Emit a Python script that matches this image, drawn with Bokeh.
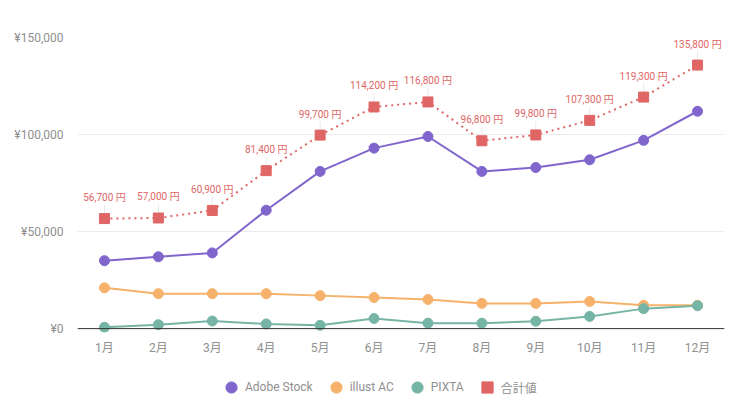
from bokeh.core.properties import value
from bokeh.embed import file_html
from bokeh.layouts import column
from bokeh.models import ColumnDataSource, Legend, LegendItem, Range1d, Span
from bokeh.plotting import figure
from bokeh.resources import INLINE

months = ["1月", "2月", "3月", "4月", "5月", "6月",
          "7月", "8月", "9月", "10月", "11月", "12月"]
adobe = [35000, 37000, 39000, 61000, 81000, 93000,
         99000, 81000, 83000, 87000, 97000, 112000]
illust = [21000, 18000, 18000, 18000, 17000, 16000,
          15000, 13000, 13000, 14000, 12000, 12000]
pixta = [700, 2000, 3900, 2400, 1700, 5200,
         2800, 2800, 3800, 6300, 10300, 11800]
total = [56700, 57000, 60900, 81400, 99700, 114200,
         116800, 96800, 99800, 107300, 119300, 135800]
y_ticks = [0, 50000, 100000, 150000]

FONT = "Roboto, 'Noto Sans CJK JP', sans-serif"
GRAY = "#8f8f8f"

src = ColumnDataSource(dict(
    m=months, adobe=adobe, illust=illust, pixta=pixta, total=total,
    lab=["{:,} 円".format(v) for v in total],
    lead0=[v + 2700 for v in total],
    lead1=[v + 7000 for v in total],
))

p = figure(width=740, height=362, x_range=months,
           y_range=Range1d(-2000, 150000),
           output_backend="svg", toolbar_location=None,
           min_border_left=77, min_border_right=16,
           min_border_top=37, min_border_bottom=30)
p.outline_line_color = None
p.background_fill_color = "white"

p.xgrid.grid_line_color = None
p.ygrid.grid_line_color = "#ececec"

p.yaxis.ticker = y_ticks
p.yaxis.major_label_overrides = {t: "¥{:,}".format(t) for t in y_ticks}
p.yaxis.axis_line_color = None
p.yaxis.major_tick_line_color = None
p.yaxis.minor_tick_line_color = None
p.yaxis.major_label_text_color = GRAY
p.yaxis.major_label_text_font = FONT
p.yaxis.major_label_text_font_size = "12px"
p.yaxis.major_label_standoff = 8

p.xaxis.axis_line_color = None
p.xaxis.major_tick_line_color = None
p.xaxis.major_label_text_color = GRAY
p.xaxis.major_label_text_font = FONT
p.xaxis.major_label_text_font_size = "12px"
p.xaxis.major_label_standoff = 2

p.add_layout(Span(location=0, dimension="width", line_color="#333333",
                  line_width=1))

# total line with value labels
p.segment(x0="m", x1="m", y0="lead0", y1="lead1", source=src,
          line_color="#e8e8e8", line_width=1)
p.line("m", "total", source=src, line_color="#e06666", line_width=2,
       line_dash="2 4")
p.scatter("m", "total", source=src, marker="square", size=10,
          fill_color="#e06666", line_color="#e06666")
p.text("m", "total", text="lab", source=src, y_offset=-21,
       text_align="center", text_baseline="middle",
       text_color="#e06666", text_font_size="10px",
       text_font=value(FONT))

series = [("Adobe Stock", "adobe", "#8066cc", "circle"),
          ("illust AC", "illust", "#f6b26b", "circle"),
          ("PIXTA", "pixta", "#76b5a6", "circle")]
for name, col, color, mk in series:
    p.line("m", col, source=src, line_color=color, line_width=2)
    p.scatter("m", col, source=src, size=10,
              fill_color=color, line_color=color)

# legend lives in its own strip below the chart
lf = figure(width=740, height=40, x_range=(0, 1), y_range=(0, 1),
            output_backend="svg", toolbar_location=None, min_border=0)
lf.axis.visible = False
lf.grid.visible = False
lf.outline_line_color = None

items = []
for name, col, color, mk in series + [("合計値", "total", "#e06666", "square")]:
    # one point outside the strip's range, only so the legend has a glyph
    r = lf.scatter(x=[5], y=[5], marker=mk, size=10,
                   fill_color=color, line_color=color)
    items.append(LegendItem(label=name, renderers=[r]))

legend = Legend(items=items, orientation="horizontal", location=(140, 1),
                label_text_color=GRAY, label_text_font=FONT,
                label_text_font_size="12px", border_line_color=None,
                background_fill_alpha=0, padding=0, margin=0,
                spacing=9, label_standoff=0,
                glyph_width=28, glyph_height=28)
lf.add_layout(legend)

open("out.html", "w").write(file_html(column(p, lf), INLINE))
